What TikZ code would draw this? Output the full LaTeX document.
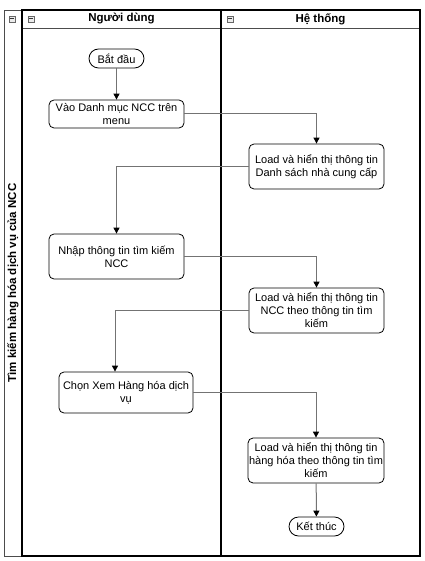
\documentclass[tikz,border=0pt]{standalone}
\usepackage{fontspec}
\setmainfont{Liberation Sans}
\usetikzlibrary{arrows.meta}
\begin{document}
\begin{tikzpicture}[x=1pt,y=-1pt,
  txt/.style={font=\fontsize{11}{13}\selectfont},
  box/.style={txt, draw=black, line width=0.8pt, rounded corners=5pt, minimum width=135pt, align=center, inner sep=1pt},
  term/.style={txt, draw=black, line width=0.8pt, rounded corners=9.5pt, minimum width=55pt, minimum height=19pt, inner sep=1pt},
  flow/.style={draw=black!55, line width=1pt, -{Triangle[color=black,length=6pt,width=6pt]}},
  hdr/.style={font=\fontsize{11.5}{13}\selectfont\bfseries},
  icon/.style={draw=black!60, fill=black!8, line width=0.5pt}
]
\useasboundingbox (0,0) rectangle (424,561);
% pool frame
\draw[black!70, line width=0.7pt] (4,10) rectangle (22,556);
\draw[line width=0.6pt, black!70] (22,28) -- (420,28);
\draw[line width=1.5pt] (22,10) rectangle (420,556);
\draw[line width=1.5pt] (221,10) -- (221,556);
% icons
\foreach \ix in {9,28,227}{
  \draw[icon] (\ix,16) rectangle ++(6,6);
  \draw[black!80, line width=1pt] (\ix+1.3,19) -- ++(3.4,0);
}
% titles
\node[hdr] (lane1) at (121.5,19) {Người dùng};
\node[hdr] (lane2) at (320.5,19) {Hệ thống};
\node[hdr, rotate=90] (pool) at (13,283) {Tìm kiếm hàng hóa dịch vụ của NCC};
% nodes
\node[term] (start) at (116.5,58.5) {Bắt đầu};
\node[box, minimum height=28pt] (vao) at (116.5,114) {Vào Danh mục NCC trên\\menu};
\node[box, minimum height=45pt] (load1) at (316.5,166.5) {Load và hiển thị thông tin\\Danh sách nhà cung cấp};
\node[box, minimum height=45pt] (nhap) at (116.5,256.5) {Nhập thông tin tìm kiếm\\NCC};
\node[box, minimum height=45pt] (load2) at (316.5,310.5) {Load và hiển thị thông tin\\NCC theo thông tin tìm\\kiếm};
\node[box, minimum width=134pt, minimum height=41pt] (chon) at (126,392.5) {Chọn Xem Hàng hóa dịch\\vụ};
\node[box, minimum height=45pt] (load3) at (316,460.5) {Load và hiển thị thông tin\\hàng hóa theo thông tin tìm\\kiếm};
\node[term] (end) at (316.5,526.5) {Kết thúc};
% connectors
\draw[flow] (start) -- (vao);
\draw[flow] (vao.east) -| (load1.north);
\draw[flow] (load1.west) -| (nhap.north);
\draw[flow] (nhap.east) -| (load2.north);
\draw[flow] (load2.west) -| ([xshift=-11pt]chon.north);
\draw[flow] (chon.east) -| (load3.north);
\draw[flow] (load3) -- (end);
\end{tikzpicture}
\end{document}
